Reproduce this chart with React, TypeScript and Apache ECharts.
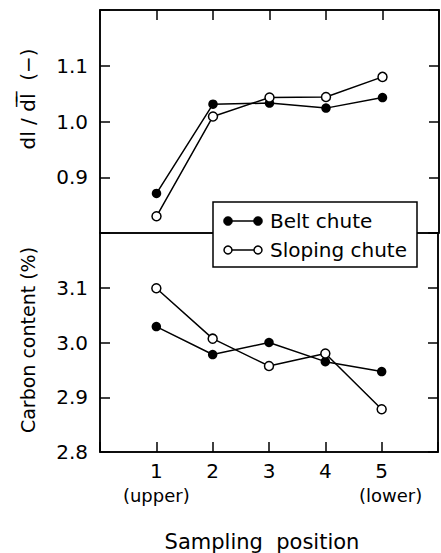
import React, { useEffect, useRef } from "react";
import * as echarts from "echarts";

// ---- data ----
const positions = [1, 2, 3, 4, 5];
const xTickLabels = ["1", "2", "3", "4", "5"];
const xTickNotes = ["(upper)", "", "", "", "(lower)"];
const seriesNames = ["Belt chute", "Sloping chute"];

// top panel: dl / mean dl (-)
const beltSizeRatio = [0.871, 1.031, 1.033, 1.024, 1.043];
const slopingSizeRatio = [0.83, 1.009, 1.043, 1.044, 1.08];

// bottom panel: carbon content (%)
const beltCarbon = [3.029, 2.978, 3.0, 2.965, 2.947];
const slopingCarbon = [3.099, 3.007, 2.957, 2.98, 2.878];

const topTickLabels = ["0.9", "1.0", "1.1"];
const bottomTickLabels = ["2.8", "2.9", "3.0", "3.1"];

const topYTitle = "dl / d\u0305l\u0305  (\u2212)";
const bottomYTitle = "Carbon content (%)";
const xTitle = "Sampling  position";

const FONT = "DejaVu Sans";
const BLACK = "#000";

export default function App() {
  const ref = useRef<HTMLDivElement>(null);

  useEffect(() => {
    if (!ref.current) return;
    const chart = echarts.init(ref.current, undefined, { renderer: "svg" });

    const axisLine = { show: true, lineStyle: { color: BLACK, width: 1.5 } };
    const axisTick = { show: true, inside: true, length: 10, lineStyle: { color: BLACK, width: 1.5 } };
    const yLabel = (labels: string[]) => ({
      show: true,
      color: BLACK,
      fontFamily: FONT,
      fontSize: 20,
      margin: 12,
      formatter: (v: number) => {
        const s = v.toFixed(1);
        return labels.includes(s) ? s : "";
      },
    });

    const xFormatter = (v: number) => {
      const i = positions.indexOf(Math.round(v * 1000) / 1000);
      if (i < 0) return "";
      const note = xTickNotes[i];
      if (!note) return xTickLabels[i];
      return `${xTickLabels[i]}\n{${i === 0 ? "u" : "l"}|${note}}`;
    };

    const openItem = { color: "#fff", borderColor: BLACK, borderWidth: 1.5 };
    const filledItem = { color: BLACK, borderColor: BLACK, borderWidth: 0 };
    const mkSeries = (name: string, values: number[], yIdx: number, xIdx: number, open: boolean) => ({
      name,
      type: "line",
      xAxisIndex: xIdx,
      yAxisIndex: yIdx,
      data: positions.map((x, i) => [x, values[i]]),
      symbol: "circle",
      symbolSize: open ? 9 : 9.5,
      lineStyle: { color: BLACK, width: 1.5 },
      itemStyle: open ? openItem : filledItem,
      emphasis: { disabled: true },
      z: open ? 3 : 2,
    });

    const legendX = 213;
    const legendY = 202;
    const rowYs = [221, 250];

    const option: any = {
      animation: false,
      backgroundColor: "#fff",
      textStyle: { fontFamily: FONT, color: BLACK },
      grid: [
        { left: 100, top: 10, width: 339, height: 223, show: true, borderColor: BLACK, borderWidth: 1.5, backgroundColor: "transparent" },
        { left: 100, top: 233, width: 339, height: 220, show: true, borderColor: BLACK, borderWidth: 1.5, backgroundColor: "transparent" },
      ],
      xAxis: [
        {
          gridIndex: 0, type: "value", min: 0, max: 6, interval: 1, position: "top",
          axisLine, axisTick, axisLabel: { show: false }, splitLine: { show: false },
        },
        {
          gridIndex: 1, type: "value", min: 0, max: 6, interval: 1, position: "bottom",
          axisLine, axisTick, splitLine: { show: false },
          axisLabel: {
            show: true, color: BLACK, fontFamily: FONT, fontSize: 20, lineHeight: 24, margin: 7,
            formatter: xFormatter,
            rich: {
              u: { fontFamily: FONT, fontSize: 18, lineHeight: 24, color: BLACK },
              l: { fontFamily: FONT, fontSize: 18, lineHeight: 24, color: BLACK, padding: [0, 0, 0, 18] },
            },
          },
          name: xTitle,
          nameLocation: "middle",
          nameGap: 79,
          nameTextStyle: { fontFamily: FONT, fontSize: 21, color: BLACK, padding: [0, 14, 0, 0] },
        },
      ],
      yAxis: [
        {
          gridIndex: 0, type: "value", min: 0.8, max: 1.2, interval: 0.1, position: "left",
          axisLine, axisTick, axisLabel: yLabel(topTickLabels), splitLine: { show: false },
        },
        {
          gridIndex: 0, type: "value", min: 0.8, max: 1.2, interval: 0.1, position: "right",
          axisLine, axisTick, axisLabel: { show: false }, splitLine: { show: false },
        },
        {
          gridIndex: 1, type: "value", min: 2.8, max: 3.2, interval: 0.1, position: "left",
          axisLine, axisTick, axisLabel: yLabel(bottomTickLabels), splitLine: { show: false },
        },
        {
          gridIndex: 1, type: "value", min: 2.8, max: 3.2, interval: 0.1, position: "right",
          axisLine, axisTick, axisLabel: { show: false }, splitLine: { show: false },
        },
      ],
      series: [
        mkSeries(seriesNames[0], beltSizeRatio, 0, 0, false),
        mkSeries(seriesNames[1], slopingSizeRatio, 0, 0, true),
        mkSeries(seriesNames[0], beltCarbon, 2, 1, false),
        mkSeries(seriesNames[1], slopingCarbon, 2, 1, true),
      ],
      graphic: [
        {
          type: "text", x: 28, y: 99, rotation: Math.PI / 2, z: 50,
          style: { text: topYTitle, fontFamily: FONT, fontSize: 20, fill: BLACK, align: "center", verticalAlign: "middle" },
        },
        {
          type: "text", x: 28, y: 340, rotation: Math.PI / 2, z: 50,
          style: { text: bottomYTitle, fontFamily: FONT, fontSize: 19, fill: BLACK, align: "center", verticalAlign: "middle" },
        },
        {
          type: "group", z: 100,
          children: [
            {
              type: "rect", z: 100,
              shape: { x: legendX, y: legendY, width: 204, height: 65 },
              style: { fill: "#fff", stroke: BLACK, lineWidth: 1.5 },
            },
            ...seriesNames.flatMap((name, i) => {
              const y = rowYs[i];
              const open = i === 1;
              const circleStyle = open
                ? { fill: "#fff", stroke: BLACK, lineWidth: 1.5 }
                : { fill: BLACK, stroke: BLACK, lineWidth: 0.5 };
              return [
                { type: "line", z: 101, shape: { x1: 228, y1: y, x2: 258, y2: y }, style: { stroke: BLACK, lineWidth: 1.5 } },
                { type: "circle", z: 102, shape: { cx: 228, cy: y, r: open ? 4 : 4.5 }, style: circleStyle },
                { type: "circle", z: 102, shape: { cx: 258, cy: y, r: open ? 4 : 4.5 }, style: circleStyle },
                {
                  type: "text", z: 102, x: 270, y,
                  style: { text: name, fontFamily: FONT, fontSize: 20, fill: BLACK, align: "left", verticalAlign: "middle" },
                },
              ];
            }),
          ],
        },
      ],
    };

    chart.setOption(option);
    return () => chart.dispose();
  }, []);

  return (
    <div
      ref={ref}
      style={{ position: "fixed", left: 0, top: 0, width: 441, height: 553, background: "#fff" }}
    />
  );
}
